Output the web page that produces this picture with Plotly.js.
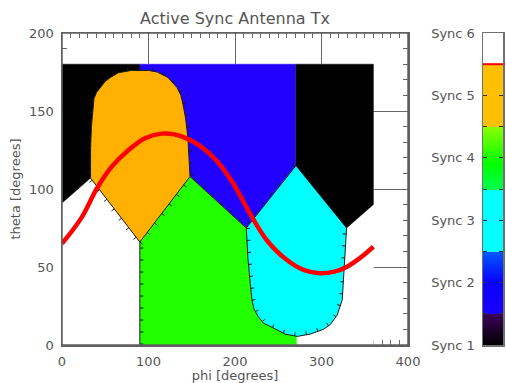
<!DOCTYPE html>
<html>
<head>
<meta charset="utf-8">
<script src="https://cdn.plot.ly/plotly-3.0.1.min.js"></script>
<style>html,body{margin:0;padding:0;background:#fff;}#chart{width:506px;height:383px;}</style>
</head>
<body>
<div id="chart"></div>
<script>
// ---- data ----
const syncLabels = ['Sync 1', 'Sync 2', 'Sync 3', 'Sync 4', 'Sync 5', 'Sync 6'];
const syncLevels = [1, 2, 3, 4, 5, 6];

// Sync 6 (white) coverage area
const whitePhi   = [0, 360, 360, 0];
const whiteTheta = [0, 0, 180, 180];
// Sync 1 (black) left sector
const blackLPhi   = [0, 90, 90, 33, 0];
const blackLTheta = [180, 180, 107, 107, 91];
// Sync 2 (blue) sector
const bluePhi   = [90, 270, 270, 213, 148, 90];
const blueTheta = [180, 180, 115, 75, 108, 120];
// Sync 1 (black) right sector
const blackRPhi   = [270, 360, 360, 329, 270];
const blackRTheta = [180, 180, 90, 75, 115];
// Sync 4 (green) sector
const greenPhi   = [90, 271, 271, 213, 148, 90];
const greenTheta = [0, 0, 30, 75, 108, 66];
// Sync 3 (cyan) lobe: upper edges (against blue / black) and lower edges (against green / white)
const cyanUpPhi     = [213, 270.5, 329];
const cyanUpTheta   = [75, 115, 75];
const cyanLowPhi    = [329, 327, 326, 324, 318, 310, 302, 287, 272, 258, 244, 233, 227, 222, 219.5, 217, 215, 213];
const cyanLowTheta  = [75, 55, 42, 29, 19, 13, 10, 7, 5.5, 7, 11, 14, 18, 23, 29, 42, 55, 75];
// Sync 5 (orange) lobe: edges against black / blue / green, and edge against white
const orangeOutPhi   = [33, 33, 34, 35.5, 37, 40, 44, 50, 56, 65, 80, 100, 110, 122.5, 133, 137.5, 140, 143, 145.5, 147, 148, 90];
const orangeOutTheta = [107, 125, 140, 152, 158, 162, 165, 169, 171.5, 174.5, 176, 176, 175, 171.5, 165, 160, 154, 145, 133, 120, 108, 66];
const orangeInPhi    = [90, 33];
const orangeInTheta  = [66, 107];
// other contour edges
const edgeLeftPhi = [90, 90];
const edgeLeftTheta = [66, 0];
const edgeTopPhi = [148, 213];
const edgeTopTheta = [108, 75];
// red track
const trackPhi   = [0, 23, 40, 57, 77, 96, 115, 130, 146, 160, 179, 198, 217, 237, 260, 280, 298, 315, 329, 345, 360];
const trackTheta = [65, 82, 100, 114, 125, 132.5, 135.5, 135, 132, 127.5, 118, 103.5, 84.5, 67, 54.5, 48, 46, 47, 50, 56, 63];

const xTicks = [0, 100, 200, 300, 400];
const yTicks = [0, 50, 100, 150, 200];

// ---- geometry helpers (pixel scale of the plot area) ----
const X_DOM = [62 / 506, 408 / 506], Y_DOM = [38 / 383, 350 / 383];
const X_RANGE = [0, 400], Y_RANGE = [0, 200];
const kx = (X_DOM[1] - X_DOM[0]) * 506 / (X_RANGE[1] - X_RANGE[0]);
const ky = (Y_DOM[1] - Y_DOM[0]) * 383 / (Y_RANGE[1] - Y_RANGE[0]);

// small contour hachures, side = +1 (right of travel) or -1 (left of travel)
function hachures(px, py, side, out) {
  const spacing = 12, len = 3.5;
  let carry = spacing / 2;
  for (let i = 0; i < px.length - 1; i++) {
    const dx = (px[i + 1] - px[i]) * kx, dy = (py[i + 1] - py[i]) * ky;
    const L = Math.hypot(dx, dy);
    if (L === 0) continue;
    const ux = dx / L, uy = dy / L;
    const nx = side * uy, ny = -side * ux;
    let s = carry;
    while (s <= L) {
      const bx = px[i] + ux * s / kx, by = py[i] + uy * s / ky;
      out.x.push(bx, bx + nx * len / kx, null);
      out.y.push(by, by + ny * len / ky, null);
      s += spacing;
    }
    carry = s - L;
  }
}
const hach = {x: [], y: []};
hachures(orangeOutPhi, orangeOutTheta, -1, hach);
hachures(orangeInPhi, orangeInTheta, -1, hach);
hachures(cyanUpPhi, cyanUpTheta, -1, hach);
hachures(cyanLowPhi, cyanLowTheta, 1, hach);
hachures(edgeLeftPhi, edgeLeftTheta, -1, hach);
hachures(edgeTopPhi, edgeTopTheta, -1, hach);

// ---- colour bar ramp ----
const barY = [];
for (let v = 1; v <= 6.0001; v += 0.01) barY.push(+v.toFixed(2));
const barZ = barY.map(v => [v]);
const f = v => (v - 1) / 5;
const barScale = [
  [f(1.0), '#000000'], [f(1.49), '#3c0058'],
  [f(1.5), '#1800ff'], [f(2.0), '#0a00ff'], [f(2.49), '#0058ff'],
  [f(2.5), '#00ffff'], [f(3.49), '#00ffff'],
  [f(3.5), '#00ff50'], [f(3.9), '#00ff00'], [f(4.49), '#88ff00'],
  [f(4.5), '#ffc000'], [f(5.49), '#ffc000'],
  [f(5.5), '#ffffff'], [f(6.0), '#ffffff']
];

function poly(x, y, color, outline) {
  return {
    type: 'scatter', mode: 'lines', x: x, y: y, fill: 'toself', fillcolor: color,
    line: outline ? {color: '#1a1a1a', width: 1} : {color: color, width: 0.5},
    hoverinfo: 'skip', showlegend: false, xaxis: 'x', yaxis: 'y'
  };
}
function edge(x, y, w) {
  return {type: 'scatter', mode: 'lines', x: x, y: y, line: {color: '#1a1a1a', width: w || 1},
    connectgaps: false, hoverinfo: 'skip', showlegend: false, xaxis: 'x', yaxis: 'y'};
}

const data = [
  poly(whitePhi, whiteTheta, '#ffffff', false),
  poly(blackLPhi, blackLTheta, '#000000', false),
  poly(bluePhi, blueTheta, '#2200ff', false),
  poly(blackRPhi, blackRTheta, '#000000', false),
  poly(greenPhi, greenTheta, '#22ff00', false),
  poly(cyanUpPhi.concat(cyanLowPhi.slice(1)), cyanUpTheta.concat(cyanLowTheta.slice(1)), '#00ffff', true),
  poly(orangeOutPhi.concat(orangeInPhi.slice(1)), orangeOutTheta.concat(orangeInTheta.slice(1)), '#ffb000', true),
  edge(edgeLeftPhi, edgeLeftTheta),
  edge(edgeTopPhi, edgeTopTheta),
  edge(hach.x, hach.y, 1),
  {type: 'scatter', mode: 'lines', x: trackPhi, y: trackTheta, line: {color: '#ff0000', width: 4.5, shape: 'spline', smoothing: 1},
    hoverinfo: 'skip', showlegend: false, xaxis: 'x', yaxis: 'y'},
  {type: 'heatmap', x: [0], y: barY, z: barZ, colorscale: barScale, zmin: 1, zmax: 6,
    showscale: false, hoverinfo: 'skip', xaxis: 'x2', yaxis: 'y2'}
];

const txt = '#555555';
const fnt = {family: 'DejaVu Sans, sans-serif', size: 13, color: txt};
const layout = {
  width: 506, height: 383,
  margin: {l: 0, r: 0, t: 0, b: 0},
  paper_bgcolor: '#ffffff', plot_bgcolor: '#ffffff',
  showlegend: false,
  font: fnt,
  title: {text: 'Active Sync Antenna Tx', x: 235 / 506, xanchor: 'center', y: 1 - 18 / 383, yanchor: 'middle',
    font: {family: 'DejaVu Sans, sans-serif', size: 16, color: txt}},
  xaxis: {
    domain: X_DOM, range: X_RANGE, anchor: 'y',
    tickvals: xTicks, ticktext: xTicks.map(String),
    ticks: 'inside', ticklen: 31, tickwidth: 1, tickcolor: '#666666',
    minor: {dtick: 10, tick0: 0, ticks: 'inside', ticklen: 5, tickwidth: 1, tickcolor: '#666666'},
    showline: true, linecolor: '#606060', linewidth: 1.5, mirror: 'ticks',
    showgrid: false, zeroline: false, layer: 'below traces',
    ticklabelstandoff: 4, tickfont: fnt,
    title: {text: 'phi [degrees]', font: fnt, standoff: 2}
  },
  yaxis: {
    domain: Y_DOM, range: Y_RANGE, anchor: 'x',
    tickvals: yTicks, ticktext: yTicks.map(String),
    ticks: 'inside', ticklen: 35, tickwidth: 1, tickcolor: '#666666',
    minor: {dtick: 10, tick0: 0, ticks: 'inside', ticklen: 5, tickwidth: 1, tickcolor: '#666666'},
    showline: true, linecolor: '#606060', linewidth: 1.5, mirror: 'ticks',
    showgrid: false, zeroline: false, layer: 'below traces',
    ticklabelstandoff: 4, tickfont: fnt,
    title: {text: 'theta [degrees]', font: fnt, standoff: 5}
  },
  xaxis2: {
    domain: [483 / 506, 503 / 506], range: [-0.5, 0.5], anchor: 'y2',
    showticklabels: false, ticks: '', showgrid: false, zeroline: false,
    showline: true, linecolor: '#707070', linewidth: 1.5, mirror: true
  },
  yaxis2: {
    domain: Y_DOM, range: [1, 6], anchor: 'x2',
    tickvals: syncLevels, ticktext: syncLabels,
    ticks: 'inside', ticklen: 4, tickwidth: 1, tickcolor: '#333333',
    minor: {dtick: 0.5, tick0: 1, ticks: 'inside', ticklen: 4, tickwidth: 1, tickcolor: '#333333'},
    showline: true, linecolor: '#707070', linewidth: 1.5, mirror: 'allticks',
    showgrid: false, zeroline: false, ticklabelstandoff: 4, tickfont: fnt
  },
  shapes: [
    {type: 'rect', xref: 'x domain', yref: 'y domain', x0: 0, x1: 1, y0: 0, y1: 1,
      line: {color: '#606060', width: 1.5}, layer: 'above'},
    {type: 'line', xref: 'x2 domain', yref: 'y2', x0: 0, x1: 1, y0: 5.5, y1: 5.5,
      line: {color: '#ff0000', width: 2}, layer: 'above'}
  ]
};

Plotly.newPlot('chart', data, layout, {staticPlot: true, displayModeBar: false});
</script>
</body>
</html>
